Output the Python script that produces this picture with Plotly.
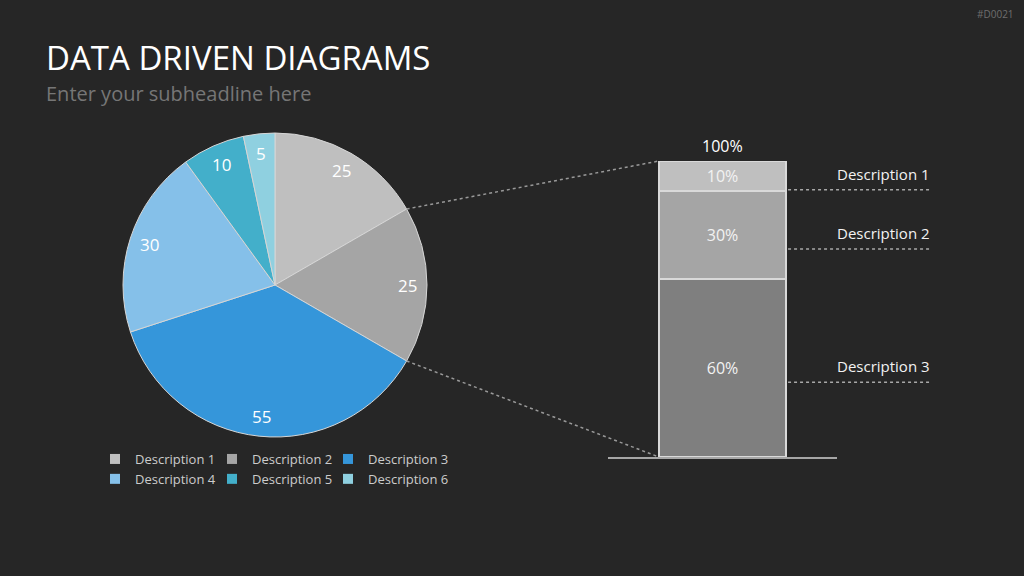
import math
import plotly.graph_objects as go

# ---------------- data ----------------
pie_labels = ["Description 1", "Description 2", "Description 3",
              "Description 4", "Description 5", "Description 6"]
pie_values = [25, 25, 55, 30, 10, 5]
pie_colors = ["#bfbfbf", "#a5a5a5", "#3596da", "#85c0e9", "#43afca", "#8fd0e0"]

bar_labels = ["10%", "30%", "60%"]          # top -> bottom
bar_values = [10, 30, 60]
bar_colors = ["#bfbfbf", "#a5a5a5", "#7f7f7f"]
bar_desc = ["Description 1", "Description 2", "Description 3"]
bar_total_label = "100%"

title_text = "DATA DRIVEN DIAGRAMS"
subtitle_text = "Enter your subheadline here"
code_text = "#D0021"

# ---------------- layout geometry (pixels) ----------------
W, H = 1024, 576
BG = "#262626"
FONT = "Open Sans"
PIE_CX, PIE_CY, PIE_R = 275, 285, 152
AX_X0, AX_X1 = 608, 837          # bar axis horizontal extent (baseline)
BAR_TOP, BAR_BOTTOM = 161, 457
BAR_W = 1.11                     # bar width in axis units, axis range -1..1
DESC_X = 930
LEGEND_COL_X = [95, 212, 328]
LEGEND_TOP = 444


def px(x):
    return x / W


def py(y):
    return 1 - y / H


fig = go.Figure()

# pie
fig.add_trace(go.Pie(
    labels=pie_labels, values=pie_values, sort=False, direction="clockwise",
    rotation=0, textinfo="none", showlegend=False,
    marker=dict(colors=pie_colors, line=dict(color="#d6d6d6", width=1)),
    domain=dict(x=[px(PIE_CX - PIE_R), px(PIE_CX + PIE_R)],
                y=[py(PIE_CY + PIE_R), py(PIE_CY - PIE_R)]),
))

# pie value labels along slice bisectors
total = sum(pie_values)
cum = 0
annotations = []
for v in pie_values:
    mid = (cum + v / 2) / total * 2 * math.pi
    cum += v
    lx = PIE_CX + 0.87 * PIE_R * math.sin(mid)
    ly = PIE_CY - 0.87 * PIE_R * math.cos(mid)
    annotations.append(dict(x=px(lx), y=py(ly), xref="paper", yref="paper",
                            text=str(v), showarrow=False,
                            font=dict(family=FONT, size=17, color="#ffffff"),
                            xanchor="center", yanchor="middle"))

# stacked bar (bottom first)
for lab, val, col in reversed(list(zip(bar_labels, bar_values, bar_colors))):
    fig.add_trace(go.Bar(
        x=[0], y=[val], width=[BAR_W], text=[lab], textposition="inside",
        insidetextanchor="middle", constraintext="none", textangle=0,
        textfont=dict(family=FONT, size=16, color="#f2f2f2"),
        marker=dict(color=col, line=dict(color="#d9d9d9", width=2)),
        showlegend=False, hoverinfo="skip",
    ))

annotations.append(dict(x=0, y=sum(bar_values), xref="x", yref="y",
                        text=bar_total_label, showarrow=False, yanchor="bottom",
                        yshift=2, font=dict(family=FONT, size=16, color="#ffffff")))

# descriptions + dotted leader lines
shapes = []
bar_right_px = (AX_X0 + AX_X1) / 2 + BAR_W / 2 * (AX_X1 - AX_X0) / 2
bar_left_px = (AX_X0 + AX_X1) / 2 - BAR_W / 2 * (AX_X1 - AX_X0) / 2
top = sum(bar_values)
for lab, val, d in zip(bar_labels, bar_values, bar_desc):
    centre = top - val / 2
    top -= val
    annotations.append(dict(x=px(DESC_X + 2), y=centre, xref="paper", yref="y",
                            text=d, showarrow=False, xanchor="right",
                            yanchor="middle", yshift=2,
                            font=dict(family=FONT, size=15, color="#f2f2f2")))
    shapes.append(dict(type="line", xref="paper", yref="y", ysizemode="pixel",
                       yanchor=centre, x0=px(bar_right_px + 2), x1=px(DESC_X),
                       y0=-14, y1=-14,
                       line=dict(color="#a8a8a8", width=1.5, dash="dot")))

# connectors from pie (end of slice 1 and slice 2) to bar corners
a1 = pie_values[0] / total * 2 * math.pi
a2 = (pie_values[0] + pie_values[1]) / total * 2 * math.pi
for ang, ty in ((a1, BAR_TOP), (a2, BAR_BOTTOM)):
    sx = PIE_CX + PIE_R * math.sin(ang)
    sy = PIE_CY - PIE_R * math.cos(ang)
    shapes.append(dict(type="line", xref="paper", yref="paper",
                       x0=px(sx), y0=py(sy), x1=px(bar_left_px), y1=py(ty),
                       line=dict(color="#999999", width=1.5, dash="dot")))

# legend: three columns (two rows each) via marker-only entries
legend_names = ["legend", "legend2", "legend3"]
for i, (lab, col) in enumerate(zip(pie_labels, pie_colors)):
    fig.add_trace(go.Scatter(
        x=[None], y=[None], mode="markers", name=lab,
        marker=dict(symbol="square", size=10, color=col),
        legend=legend_names[i % 3], hoverinfo="skip",
    ))

legend_layout = {}
for name, lx in zip(legend_names, LEGEND_COL_X):
    legend_layout[name] = dict(
        orientation="v", xanchor="left", yanchor="top", x=px(lx),
        y=py(LEGEND_TOP), bgcolor="rgba(0,0,0,0)", traceorder="normal",
        font=dict(family=FONT, size=13, color="#cccccc"), tracegroupgap=0,
        itemclick=False, itemdoubleclick=False)

# titles
annotations += [
    dict(x=px(44), y=py(58), xref="paper", yref="paper", text=title_text,
         showarrow=False, xanchor="left", yanchor="middle",
         font=dict(family=FONT, size=33, color="#ffffff")),
    dict(x=px(44), y=py(94), xref="paper", yref="paper", text=subtitle_text,
         showarrow=False, xanchor="left", yanchor="middle",
         font=dict(family=FONT, size=20, color="#767676")),
    dict(x=px(1016), y=py(14), xref="paper", yref="paper", text=code_text,
         showarrow=False, xanchor="right", yanchor="middle",
         font=dict(family=FONT, size=10, color="#6e6e6e")),
]

fig.update_layout(
    width=W, height=H, margin=dict(l=0, r=0, t=0, b=0),
    paper_bgcolor=BG, plot_bgcolor=BG, barmode="stack",
    xaxis=dict(domain=[px(AX_X0), px(AX_X1)], range=[-1, 1], showgrid=False,
               zeroline=False, showticklabels=False, ticks="", showline=True,
               linecolor="#a6a6a6", linewidth=2, fixedrange=True),
    yaxis=dict(domain=[py(BAR_BOTTOM), py(BAR_TOP)], range=[0, 100],
               visible=False, fixedrange=True),
    annotations=annotations, shapes=shapes, showlegend=True,
    **legend_layout,
)

fig.write_html("out.html")
